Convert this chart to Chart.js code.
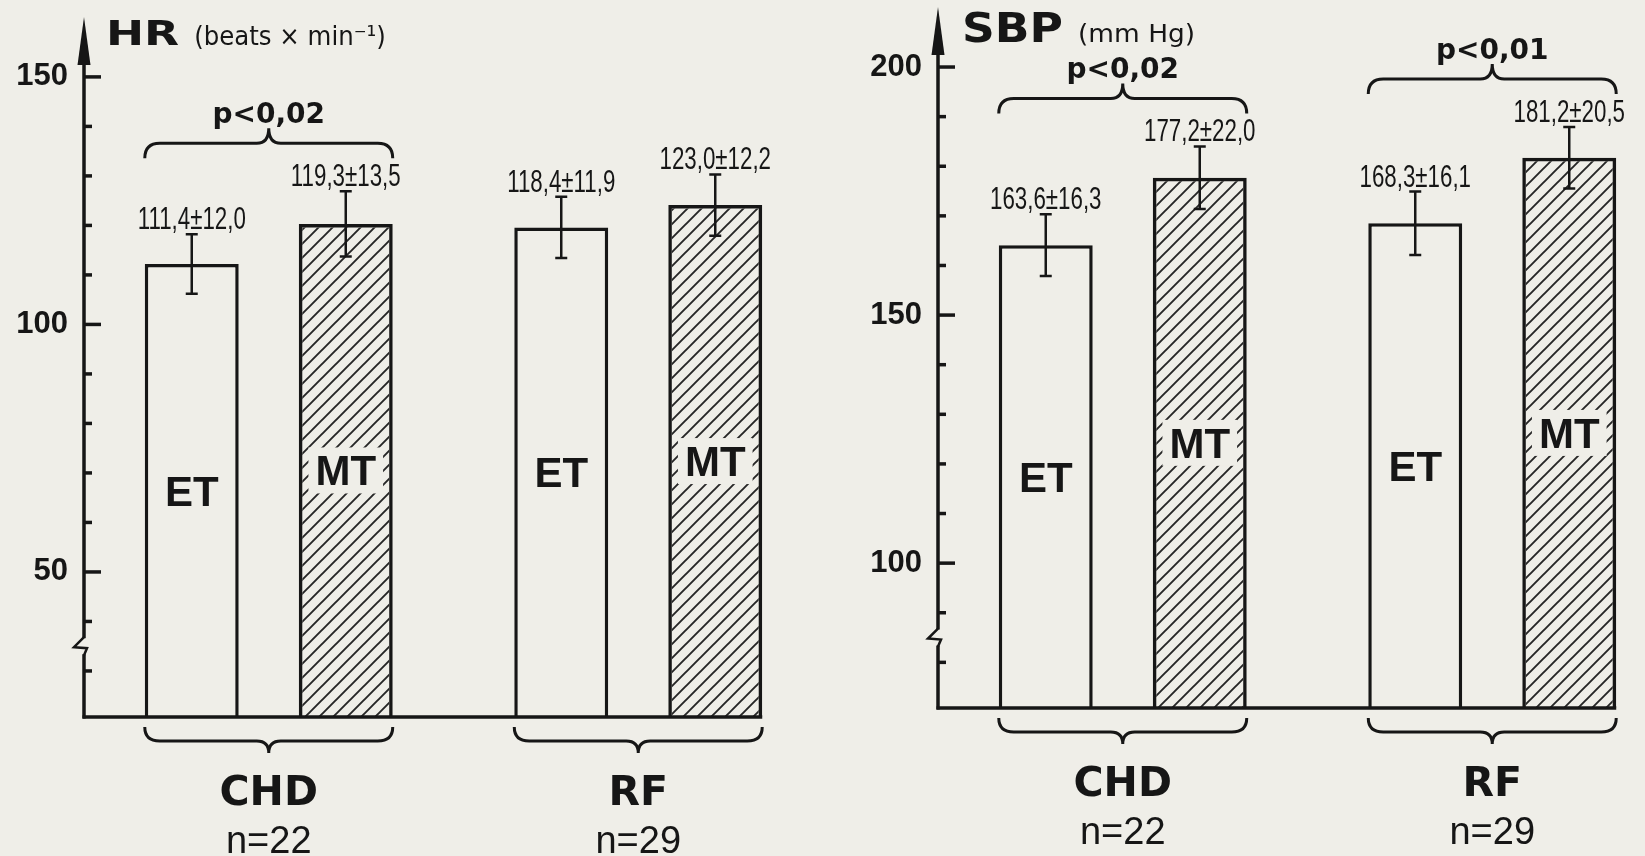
<!DOCTYPE html>
<html>
<head>
<meta charset="utf-8">
<script src="https://cdn.jsdelivr.net/npm/chart.js@4.4.1/dist/chart.umd.min.js"></script>
<style>
  html, body { margin: 0; padding: 0; overflow: hidden; width: 1645px; height: 856px; background: #efeee8; }
  canvas { position: absolute; top: 0; }
  #hrChart { left: 0; }
  #sbpChart { left: 830px; }
</style>
</head>
<body>
<canvas id="hrChart" width="830" height="856"></canvas>
<canvas id="sbpChart" width="850" height="856"></canvas>
<script>
// groups on the x axis and the two bars in each group
const groups = ['CHD', 'RF'];
const groupN = ['n=22', 'n=29'];
const treatments = ['ET', 'MT'];

// heart rate (beats x min-1): bar heights as drawn, printed mean ± SD
const hrET = [112.2, 119.6];
const hrMT = [120.3, 124.1];
const hrTextET = ['111,4±12,0', '118,4±11,9'];
const hrTextMT = ['119,3±13,5', '123,0±12,2'];
// half length of the whiskers as drawn in the figure
const hrWhiskerET = [6.0, 6.2];
const hrWhiskerMT = [6.6, 6.2];
const hrP = ['p<0,02', null];
const hrTickLabels = [50, 100, 150];

// systolic blood pressure (mm Hg)
const sbpET = [164.1, 168.5];
const sbpMT = [177.7, 181.7];
const sbpTextET = ['163,6±16,3', '168,3±16,1'];
const sbpTextMT = ['177,2±22,0', '181,2±20,5'];
const sbpWhiskerET = [6.2, 6.4];
const sbpWhiskerMT = [6.3, 6.2];
const sbpP = ['p<0,02', 'p<0,01'];
const sbpTickLabels = [100, 150, 200];

const INK = '#161616';
const PAPER = '#efeee8';

function text(ctx, s, x, y, font, align, sx) {
    ctx.save();
    ctx.font = font;
    ctx.textAlign = align || 'left';
    ctx.textBaseline = 'alphabetic';
    ctx.translate(x, y);
    ctx.scale(sx || 1, 1);
    ctx.fillText(s, 0, 0);
    ctx.restore();
}

function textWidth(ctx, s, font, sx) {
    ctx.save();
    ctx.font = font;
    const w = ctx.measureText(s).width * (sx || 1);
    ctx.restore();
    return w;
}

// curly brace between x1 and x2, tips at yTip, pointing to yCusp
function brace(ctx, x1, x2, yTip, yLine, yCusp) {
    const xc = (x1 + x2) / 2;
    const r = 15;
    ctx.beginPath();
    ctx.moveTo(x1, yTip);
    ctx.quadraticCurveTo(x1, yLine, x1 + r, yLine);
    ctx.lineTo(xc - 12, yLine);
    ctx.quadraticCurveTo(xc, yLine, xc, yCusp);
    ctx.moveTo(x2, yTip);
    ctx.quadraticCurveTo(x2, yLine, x2 - r, yLine);
    ctx.lineTo(xc + 12, yLine);
    ctx.quadraticCurveTo(xc, yLine, xc, yCusp);
    ctx.stroke();
}

function hatch() {
    const s = 14;
    const c = document.createElement('canvas');
    c.width = s; c.height = s;
    const g = c.getContext('2d');
    g.strokeStyle = '#262626';
    g.lineWidth = 1.9;
    g.beginPath();
    g.moveTo(-2, s + 2); g.lineTo(s + 2, -2);
    g.moveTo(-2, 2); g.lineTo(2, -2);
    g.moveTo(s - 2, s + 2); g.lineTo(s + 2, s - 2);
    g.stroke();
    return g.createPattern(c, 'repeat');
}

const figurePlugin = {
    id: 'figure',
    afterDatasetsDraw(chart, args, opts) {
        const ctx = chart.ctx;
        const area = chart.chartArea;
        const y = chart.scales.y;
        const ax = area.left;
        const base = area.bottom;
        ctx.save();
        ctx.fillStyle = INK;
        ctx.strokeStyle = INK;
        ctx.lineCap = 'butt';

        // y axis with arrow head
        ctx.lineWidth = 3.5;
        ctx.beginPath();
        ctx.moveTo(ax, base + 1.5);
        ctx.lineTo(ax, area.top + 30);
        ctx.stroke();
        ctx.beginPath();
        ctx.moveTo(ax, area.top);
        ctx.lineTo(ax - 6.5, area.top + 48);
        ctx.lineTo(ax + 6.5, area.top + 48);
        ctx.closePath();
        ctx.fill();

        // tick marks on the inner side of the axis
        y.ticks.forEach(t => {
            if (Math.abs(t.value % 10) > 1e-6) return;
            const py = y.getPixelForValue(t.value);
            const major = opts.tickLabels.includes(t.value);
            ctx.beginPath();
            ctx.moveTo(ax, py);
            ctx.lineTo(ax + (major ? 17 : 8), py);
            ctx.stroke();
        });

        // axis break
        const yb = y.getPixelForValue(opts.breakAt);
        ctx.fillStyle = PAPER;
        ctx.fillRect(ax - 3, yb - 8, 6, 16);
        ctx.fillStyle = INK;
        ctx.lineWidth = 2.5;
        ctx.beginPath();
        ctx.moveTo(ax, yb - 9);
        ctx.lineTo(ax - 10, yb + 1);
        ctx.lineTo(ax + 3, yb + 2);
        ctx.lineTo(ax, yb + 9);
        ctx.stroke();

        // baseline up to the right edge of the last bar
        const metas = chart.data.datasets.map((d, i) => chart.getDatasetMeta(i));
        const lastMeta = metas[metas.length - 1];
        const lastBar = lastMeta.data[lastMeta.data.length - 1];
        ctx.lineWidth = 3.5;
        ctx.beginPath();
        ctx.moveTo(ax - 1.5, base);
        ctx.lineTo(lastBar.x + lastBar.width / 2, base);
        ctx.stroke();

        // whiskers, value labels and treatment names
        const labelTop = [];
        chart.data.datasets.forEach((ds, di) => {
            metas[di].data.forEach((bar, i) => {
                const top = y.getPixelForValue(ds.data[i] + ds.whisker[i]);
                const bot = y.getPixelForValue(ds.data[i] - ds.whisker[i]);
                ctx.lineWidth = 2.5;
                ctx.beginPath();
                ctx.moveTo(bar.x, top); ctx.lineTo(bar.x, bot);
                ctx.moveTo(bar.x - 6, top); ctx.lineTo(bar.x + 6, top);
                ctx.moveTo(bar.x - 6, bot); ctx.lineTo(bar.x + 6, bot);
                ctx.stroke();

                text(ctx, ds.valueText[i], bar.x, top - 5, '31px "Liberation Sans"', 'center', 0.72);
                labelTop[i] = Math.min(labelTop[i] ?? Infinity, top - 28);

                const font = 'bold 42px "Liberation Sans"';
                const mid = (bar.y + base) / 2;
                const w = textWidth(ctx, ds.label, font);
                if (di === 1) {
                    ctx.fillStyle = PAPER;
                    ctx.fillRect(bar.x - w / 2 - 7, mid - 23, w + 14, 46);
                    ctx.fillStyle = INK;
                }
                text(ctx, ds.label, bar.x, mid + 15, font, 'center');
            });
        });

        // significance braces above the groups
        ctx.lineWidth = 3;
        opts.pValues.forEach((p, i) => {
            if (!p) return;
            const a = metas[0].data[i];
            const b = metas[1].data[i];
            const x1 = a.x - a.width / 2;
            const x2 = b.x + b.width / 2;
            const yTip = labelTop[i] - 5;
            const yLine = yTip - 15;
            const yCusp = yLine - 15;
            brace(ctx, x1, x2, yTip, yLine, yCusp);
            text(ctx, p, (x1 + x2) / 2, yCusp - 5, 'bold 28px "DejaVu Sans"', 'center');
        });

        // group braces, names and sizes under the axis
        chart.data.labels.forEach((g, i) => {
            const a = metas[0].data[i];
            const b = metas[1].data[i];
            const x1 = a.x - a.width / 2;
            const x2 = b.x + b.width / 2;
            brace(ctx, x1, x2, base + 10, base + 24, base + 36);
            text(ctx, g, (x1 + x2) / 2, base + 88, 'bold 41px "DejaVu Sans"', 'center');
            text(ctx, opts.groupN[i], (x1 + x2) / 2, base + 136, '38px "Liberation Sans"', 'center');
        });

        // axis title
        const t = opts.title;
        const tx = ax + t.dx;
        text(ctx, t.main, tx, t.baseline, t.mainFont, 'left', t.mainScale);
        const mw = textWidth(ctx, t.main, t.mainFont, t.mainScale);
        text(ctx, t.unit, tx + mw + 15, t.baseline, t.unitFont, 'left', t.unitScale);

        ctx.restore();
    }
};

function makeChart(id, cfg) {
    return new Chart(document.getElementById(id), {
        type: 'bar',
        data: {
            labels: groups,
            datasets: [
                {
                    label: treatments[0], data: cfg.et, valueText: cfg.textEt, whisker: cfg.wEt,
                    backgroundColor: PAPER, borderColor: INK, borderWidth: 3.5
                },
                {
                    label: treatments[1], data: cfg.mt, valueText: cfg.textMt, whisker: cfg.wMt,
                    backgroundColor: hatch(), borderColor: INK, borderWidth: 3.5
                }
            ]
        },
        options: {
            responsive: false,
            animation: false,
            layout: { padding: { left: 0, right: cfg.padRight, top: cfg.padTop, bottom: cfg.padBottom } },
            datasets: { bar: { categoryPercentage: 0.8336, barPercentage: 0.61 } },
            scales: {
                x: { display: false, offset: true },
                y: {
                    min: cfg.min,
                    max: cfg.max,
                    grid: { display: false, drawTicks: false },
                    border: { display: false },
                    ticks: {
                        stepSize: 10,
                        autoSkip: false,
                        padding: 16,
                        color: INK,
                        font: { family: 'Liberation Sans', weight: 'bold', size: 31 },
                        callback: v => cfg.tickLabels.includes(v) ? String(v) : ''
                    },
                    afterFit: s => {
                        s.width = cfg.axisWidth;
                        s.paddingTop = 0;
                        s.paddingBottom = 0;
                    }
                }
            },
            plugins: {
                legend: { display: false },
                tooltip: { enabled: false },
                figure: {
                    tickLabels: cfg.tickLabels,
                    breakAt: cfg.breakAt,
                    pValues: cfg.p,
                    groupN: groupN,
                    title: cfg.title
                }
            }
        },
        plugins: [figurePlugin]
    });
}

makeChart('hrChart', {
    et: hrET, mt: hrMT, textEt: hrTextET, textMt: hrTextMT, wEt: hrWhiskerET, wMt: hrWhiskerMT,
    p: hrP, tickLabels: hrTickLabels, min: 20.7, max: 162.1, breakAt: 35,
    axisWidth: 84, padRight: 7, padTop: 17, padBottom: 139,
    title: { main: 'HR', unit: '(beats × min⁻¹)', dx: 22, baseline: 45,
             mainFont: 'bold 33px "DejaVu Sans"', mainScale: 1.38,
             unitFont: '26px "DejaVu Sans"', unitScale: 0.94 }
});

makeChart('sbpChart', {
    et: sbpET, mt: sbpMT, textEt: sbpTextET, textMt: sbpTextMT, wEt: sbpWhiskerET, wMt: sbpWhiskerMT,
    p: sbpP, tickLabels: sbpTickLabels, min: 70.8, max: 212.1, breakAt: 85,
    axisWidth: 108, padRight: 3, padTop: 7, padBottom: 148,
    title: { main: 'SBP', unit: '(mm Hg)', dx: 24, baseline: 42,
             mainFont: 'bold 40px "DejaVu Sans"', mainScale: 1.14,
             unitFont: '24px "DejaVu Sans"', unitScale: 1.1 }
});
</script>
</body>
</html>
